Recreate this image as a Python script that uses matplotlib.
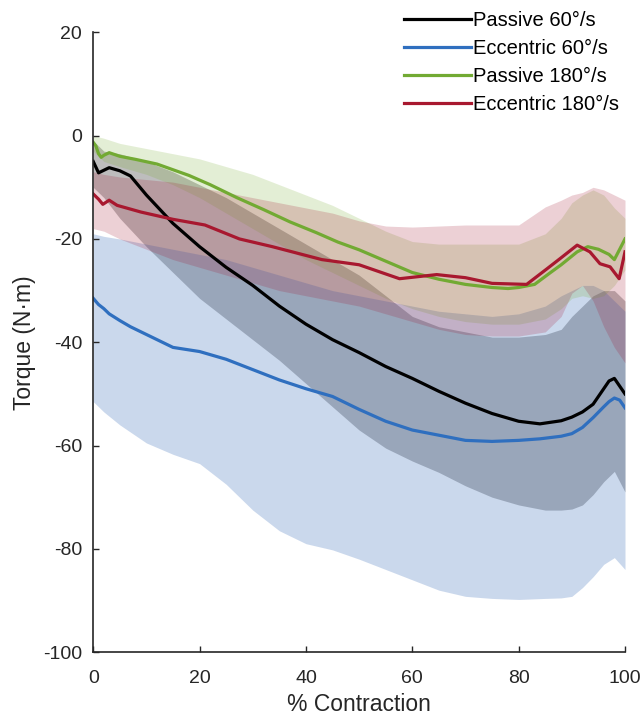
import matplotlib.pyplot as plt
plt.switch_backend('agg')
import numpy as np
from matplotlib import rc

rc('font', family=['Liberation Sans', 'DejaVu Sans'], size=12)
rc('axes', unicode_minus=False)

# mean torque curves, each with its own % contraction samples
x_p60 = [0, 1, 3, 5, 7, 10, 15, 20, 25, 30, 35, 40, 45, 50, 55, 60, 65, 70, 75, 80, 84, 88,
         90, 92, 94, 96, 97, 98, 99, 100]
passive60 = [-5, -7.2, -6.2, -6.8, -7.8, -11.5, -17, -21.5, -25.5, -29, -33, -36.5, -39.5, -42,
             -44.7, -47, -49.5, -51.8, -53.8, -55.3, -55.8, -55.2, -54.5, -53.5, -52, -49,
             -47.5, -47, -48.5, -50]

x_e60 = [0, 1, 2, 3, 5, 7, 10, 15, 20, 25, 30, 35, 40, 45, 50, 55, 60, 65, 70, 75, 80, 84, 88,
         90, 92, 94, 96, 97, 98, 99, 100]
eccentric60 = [-31.5, -32.7, -33.5, -34.5, -35.8, -37, -38.5, -41, -41.8, -43.3, -45.3, -47.3,
               -49, -50.5, -53, -55.3, -57, -58, -59, -59.2, -59, -58.7, -58.2, -57.7, -56.5,
               -54.6, -52.5, -51.5, -50.8, -51.2, -52.7]

x_p180 = [0, 0.5, 1, 1.5, 2, 3, 5, 8, 12, 18, 22, 27, 32, 37, 42, 46, 50, 55, 60, 65, 70, 75,
          78, 80, 83, 86, 88, 91, 93, 95, 97, 98, 99, 100]
passive180 = [-1.3, -2, -3.5, -4.2, -3.8, -3.3, -4, -4.6, -5.5, -7.7, -9.5, -12, -14.3, -16.7,
              -18.8, -20.6, -22.1, -24.3, -26.5, -27.8, -28.8, -29.4, -29.6, -29.4, -28.8,
              -26.5, -25, -22.5, -21.5, -22, -23, -24, -22, -20]

x_e180 = [0, 1, 1.8, 3, 4.5, 9, 15, 21, 27.5, 33.7, 43, 50, 57.6, 64.6, 70, 75, 81.5, 85.3,
          87.8, 91, 93.4, 95.3, 97.2, 98.9, 100]
eccentric180 = [-11.3, -12.3, -13.3, -12.5, -13.5, -14.8, -16.2, -17.3, -20, -21.5, -24, -25,
                -27.7, -26.9, -27.5, -28.6, -28.8, -25.8, -23.8, -21.2, -22.5, -24.8, -25.4,
                -27.7, -22.5]

# standard deviation band edges
x_band = [0, 2, 5, 10, 15, 20, 25, 30, 35, 40, 45, 50, 55, 60, 65, 70, 75, 80, 85, 88, 90, 92,
          94, 96, 98, 100]
passive60_hi = [-1, -3, -3.5, -5, -7, -9.5, -12, -15, -18, -21, -24, -27, -31, -35, -37, -38,
                -39, -39, -38.5, -37.5, -35, -33, -31, -30, -30, -32]
passive60_lo = [-10, -12, -16, -21.5, -26.5, -31.5, -35.5, -39.5, -43.5, -48, -52.5, -57,
                -60.5, -63, -65.2, -67.8, -70, -71.5, -72.5, -72.5, -72.3, -71.5, -69.5, -67,
                -65, -69]
eccentric60_hi = [-19, -19.5, -20, -21, -22, -23, -24, -25.5, -27, -28.5, -30, -31, -32, -33,
                  -34, -34.5, -35, -34.5, -33, -31, -30, -29, -29, -30, -32, -34]
eccentric60_lo = [-51.5, -53.5, -56, -59.5, -61.7, -63.5, -67.5, -72.5, -76.5, -79, -80.2, -82,
                  -84, -86, -88, -89.2, -89.6, -89.8, -89.6, -89.5, -89.2, -87.5, -85.4, -83,
                  -81.7, -84]
passive180_hi = [0, -0.5, -1.5, -2.5, -3.5, -4.5, -6, -7.5, -9.5, -11.5, -13.5, -16, -18.5,
                 -20.5, -21, -21, -21, -21, -19, -16, -13, -11.5, -10.5, -11.5, -14, -16]
passive180_lo = [-3, -5, -6, -7.5, -9.5, -12, -15, -18, -21, -24, -26.5, -29, -31.5, -33.5,
                 -35, -36, -36.5, -36.5, -35.5, -33.5, -31.5, -31, -31.5, -31, -29, -26]
eccentric180_hi = [-7, -7.5, -8, -8.5, -9, -10, -11, -12, -13, -14, -15, -16.5, -17.5, -17.7,
                   -17.5, -17.3, -17.3, -17.3, -13.8, -12.5, -11.5, -11, -10, -10.5, -11.5,
                   -12.5]
eccentric180_lo = [-18, -18.5, -20, -22, -24, -25.5, -27, -28.5, -30, -31, -32, -33, -34.5, -36,
                   -37.5, -38.5, -38.8, -38.8, -38, -35, -30.5, -29, -32, -37, -41, -44]

labels = ['Passive 60\u00b0/s', 'Eccentric 60\u00b0/s', 'Passive 180\u00b0/s', 'Eccentric 180\u00b0/s']
colors = ['#000000', '#2F6FBF', '#72AA33', '#A8182F']
fill_colors = ['#000000', '#2E64B4', '#77AC30', '#A2142F']
fill_alpha = [0.26, 0.25, 0.2, 0.2]
xs = [x_p60, x_e60, x_p180, x_e180]
means = [passive60, eccentric60, passive180, eccentric180]
his = [passive60_hi, eccentric60_hi, passive180_hi, eccentric180_hi]
los = [passive60_lo, eccentric60_lo, passive180_lo, eccentric180_lo]

fig = plt.figure(figsize=(6.43, 7.19), dpi=100)
ax = fig.add_axes([0.145, 0.093, 0.827, 0.862])

for hi, lo, c, a in zip(his, los, fill_colors, fill_alpha):
    ax.fill_between(x_band, lo, hi, color=c, alpha=a, linewidth=0)
for xx, m, c, lab in zip(xs, means, colors, labels):
    ax.plot(xx, m, color=c, linewidth=2.3, label=lab)

ax.set_xlim(0, 100)
ax.set_ylim(-100, 20)
ax.set_xticks([0, 20, 40, 60, 80, 100])
ax.set_yticks([-100, -80, -60, -40, -20, 0, 20])
ax.spines['top'].set_visible(False)
ax.spines['right'].set_visible(False)
for s in ['left', 'bottom']:
    ax.spines[s].set_color('#262626')
    ax.spines[s].set_linewidth(1.2)
ax.tick_params(axis='both', direction='in', length=4, width=1, colors='#262626', labelsize=14)
ax.tick_params(axis='x', pad=13)
ax.tick_params(axis='y', pad=8)
ax.set_xlabel('% Contraction', fontsize=16.5, color='#262626', labelpad=4)
ax.set_ylabel('Torque (N\u00b7m)', fontsize=16.5, color='#262626', labelpad=5)

ax.legend(loc='upper left', bbox_to_anchor=(0.57, 1.047), frameon=False, handlelength=3.3,
          handletextpad=0.1, labelspacing=0.45, fontsize=14.5, borderaxespad=0)

plt.savefig('out.png', dpi=100)
plt.close()
